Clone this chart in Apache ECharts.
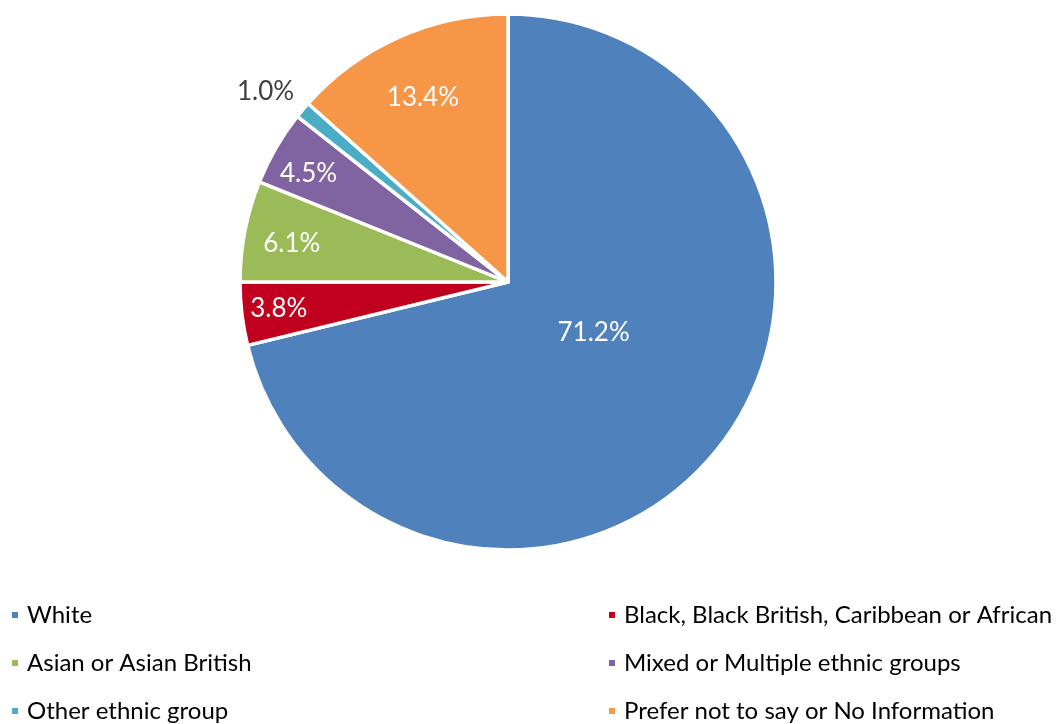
<!DOCTYPE html>
<html>
<head>
<meta charset="utf-8">
<style>
  html, body { margin: 0; padding: 0; background: #ffffff; }
  #chart { width: 1060px; height: 724px; }
</style>
<script src="https://cdn.jsdelivr.net/npm/echarts@6/dist/echarts.min.js"></script>
</head>
<body>
<div id="chart"></div>
<script>
// Ethnicity breakdown (percent of total)
const categories = [
  'White',
  'Black, Black British, Caribbean or African',
  'Asian or Asian British',
  'Mixed or Multiple ethnic groups',
  'Other ethnic group',
  'Prefer not to say or No Information'
];
const values = [71.2, 3.8, 6.1, 4.5, 1.0, 13.4];
const colors = ['#4F81BD', '#C0001E', '#9BBB59', '#8064A2', '#4BACC6', '#F79646'];

// Label placement: radial reach relative to the default inside position, plus a small nudge
const labelReach = [0.73, 1.7, 1.63, 1.69, 2.3, 1.52];
const labelNudge = [[7, -11], [2, -1], [3, 4], [1, 8], [-1, 12], [0, 6]];
const labelColors = ['#ffffff', '#ffffff', '#ffffff', '#ffffff', '#404040', '#ffffff'];

const center = [508, 282];
const radius = 268;
const font = 'Lato, "Noto Sans", sans-serif';

const chart = echarts.init(document.getElementById('chart'), null, { renderer: 'canvas' });

const pieData = categories.map((name, i) => ({
  name: name,
  value: values[i],
  itemStyle: { color: colors[i] },
  label: { color: labelColors[i] }
}));

const legendBase = {
  orient: 'vertical',
  icon: 'rect',
  itemWidth: 8,
  itemHeight: 8,
  itemGap: 24,
  top: 603,
  padding: 0,
  selectedMode: false,
  textStyle: {
    fontFamily: font,
    fontSize: 24,
    lineHeight: 24,
    color: '#000000',
    padding: [0, 0, 0, 3]
  }
};

chart.setOption({
  animation: false,
  legend: [
    Object.assign({}, legendBase, { left: 10, data: [categories[0], categories[2], categories[4]] }),
    Object.assign({}, legendBase, { left: 607, data: [categories[1], categories[3], categories[5]] })
  ],
  series: [{
    type: 'pie',
    center: center,
    radius: [0, radius],
    startAngle: 90,
    clockwise: true,
    avoidLabelOverlap: false,
    itemStyle: { borderColor: '#ffffff', borderWidth: 3.5 },
    label: {
      show: true,
      position: 'inside',
      fontFamily: font,
      fontSize: 26,
      formatter: p => p.value.toFixed(1) + '%'
    },
    labelLine: { show: false },
    labelLayout: function (params) {
      const r = params.labelRect;
      const lx = r.x + r.width / 2;
      const ly = r.y + r.height / 2;
      const i = params.dataIndex;
      const k = labelReach[i] - 1;
      return {
        dx: (lx - center[0]) * k + labelNudge[i][0],
        dy: (ly - center[1]) * k + labelNudge[i][1]
      };
    },
    data: pieData
  }]
});
</script>
</body>
</html>
